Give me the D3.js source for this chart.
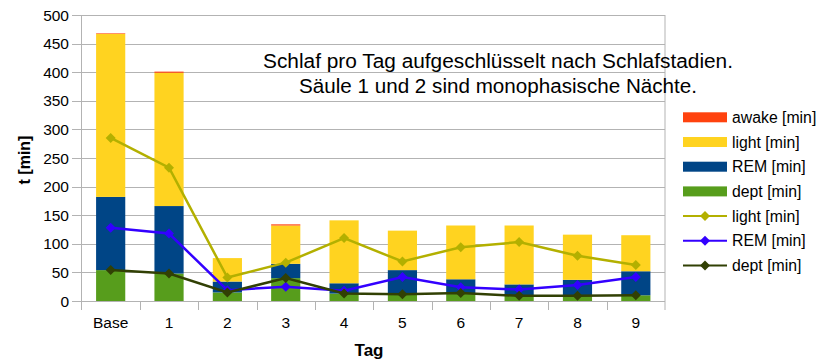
<!DOCTYPE html>
<html><head><meta charset="utf-8">
<script src="https://cdn.jsdelivr.net/npm/d3@7"></script>
<style>body{margin:0;background:#fff}svg{display:block;font-family:"Liberation Sans",Arial,sans-serif}</style>
</head><body><svg id="c" width="818" height="361"></svg>
<script>
const categories = ["Base","1","2","3","4","5","6","7","8","9"];
const dept  = [54, 48, 15, 40, 13, 12, 14, 9, 9, 10];
const rem   = [128,118, 19, 25, 18, 42, 24, 20, 28, 42];
const light = [285,233, 41, 67,110, 69, 94,103, 79, 63];
const awake = [1, 2, 0, 2, 0, 0, 0, 0, 0, 0];
const yTicks = [0,50,100,150,200,250,300,350,400,450,500];
const titleLines = ["Schlaf pro Tag aufgeschlüsselt nach Schlafstadien.","Säule 1 und 2 sind monophasische Nächte."];

const colDept="#579d1c", colRem="#004586", colLight="#ffd320", colAwake="#ff420e";
const lnLight="#b3b000", lnRem="#3300ff", lnDept="#314004";

const svg = d3.select("#c");
const L=81.5, R=665, T=15, B=301;
const x = d3.scaleBand().domain(categories).range([L,R]).paddingInner(0.5).paddingOuter(0.25);
const xb = d3.scaleBand().domain(categories).range([L,R]);
const y = d3.scaleLinear().domain([0,500]).range([B,T]);

svg.append("g").selectAll("line").data(yTicks).join("line")
  .attr("x1",L-9.5).attr("x2",R).attr("y1",d=>Math.round(y(d))+0.5).attr("y2",d=>Math.round(y(d))+0.5)
  .attr("stroke","#b3b3b3").attr("stroke-width",1);
svg.append("line").attr("x1",L).attr("x2",L).attr("y1",T).attr("y2",B+9).attr("stroke","#b3b3b3");
svg.append("line").attr("x1",R).attr("x2",R).attr("y1",T).attr("y2",B+9).attr("stroke","#b3b3b3");
svg.append("g").selectAll("line").data(categories.slice(1)).join("line")
  .attr("x1",d=>Math.round(xb(d))+0.5).attr("x2",d=>Math.round(xb(d))+0.5).attr("y1",B).attr("y2",B+9)
  .attr("stroke","#b3b3b3");

svg.append("g").selectAll("text").data(yTicks).join("text")
  .attr("x",69).attr("y",d=>y(d)+5.5).attr("text-anchor","end").attr("font-size","15.5px").attr("fill","#000")
  .text(d=>d);
svg.append("g").selectAll("text").data(categories).join("text")
  .attr("x",d=>xb(d)+xb.bandwidth()/2).attr("y",328).attr("text-anchor","middle").attr("font-size","15.5px")
  .text(d=>d);

const rows = categories.map((c,i)=>({c, dept:dept[i], rem:rem[i], light:light[i], awake:awake[i]}));
const keys=["dept","rem","light","awake"], cols={dept:colDept,rem:colRem,light:colLight,awake:colAwake};
const stack = d3.stack().keys(keys)(rows);
svg.append("g").selectAll("g").data(stack).join("g").attr("fill",d=>cols[d.key])
  .selectAll("rect").data(d=>d).join("rect")
  .attr("x",d=>x(d.data.c)).attr("width",x.bandwidth())
  .attr("y",d=>y(d[1])).attr("height",d=>Math.max(0,y(d[0])-y(d[1])));

const cx = c=>xb(c)+xb.bandwidth()/2;
const diamond = "M0,-5L5,0L0,5L-5,0Z";
function drawLine(vals,color){
  const g=svg.append("g");
  g.append("path").datum(vals).attr("fill","none").attr("stroke",color).attr("stroke-width",2.5)
    .attr("d",d3.line().x((d,i)=>cx(categories[i])).y(d=>y(d)));
  g.selectAll("path.m").data(vals).join("path").attr("class","m")
    .attr("transform",(d,i)=>`translate(${cx(categories[i])},${y(d)})`).attr("d",diamond).attr("fill",color);
}
drawLine(light,lnLight);
drawLine(rem,lnRem);
drawLine(dept,lnDept);

const titleW=[470,398];
svg.append("g").selectAll("text").data(titleLines).join("text")
  .attr("x",498).attr("y",(d,i)=>68+i*25).attr("text-anchor","middle").attr("font-size","19.5px")
  .attr("textLength",(d,i)=>titleW[i]).attr("lengthAdjust","spacingAndGlyphs").text(d=>d);

svg.append("text").attr("transform","translate(30,160) rotate(-90)").attr("text-anchor","middle")
  .attr("font-size","16px").attr("font-weight","bold").text("t [min]");
svg.append("text").attr("x",369).attr("y",356).attr("text-anchor","middle")
  .attr("font-size","17px").attr("font-weight","bold").text("Tag");

const legend=[
  {label:"awake [min]",type:"bar",color:colAwake},
  {label:"light [min]",type:"bar",color:colLight},
  {label:"REM [min]",type:"bar",color:colRem},
  {label:"dept [min]",type:"bar",color:colDept},
  {label:"light [min]",type:"line",color:lnLight},
  {label:"REM [min]",type:"line",color:lnRem},
  {label:"dept [min]",type:"line",color:lnDept}];
const lg=svg.append("g").selectAll("g").data(legend).join("g")
  .attr("transform",(d,i)=>`translate(683,${117.3+i*24.7})`);
lg.filter(d=>d.type==="bar").append("rect").attr("x",0).attr("y",-5).attr("width",44).attr("height",10).attr("fill",d=>d.color);
lg.filter(d=>d.type==="line").append("line").attr("x1",0).attr("x2",44).attr("y1",0).attr("y2",0).attr("stroke",d=>d.color).attr("stroke-width",2);
lg.filter(d=>d.type==="line").append("path").attr("transform","translate(22,0)").attr("d",diamond).attr("fill",d=>d.color);
lg.append("text").attr("x",49).attr("y",5.5).attr("font-size","15.8px").text(d=>d.label);
</script></body></html>
